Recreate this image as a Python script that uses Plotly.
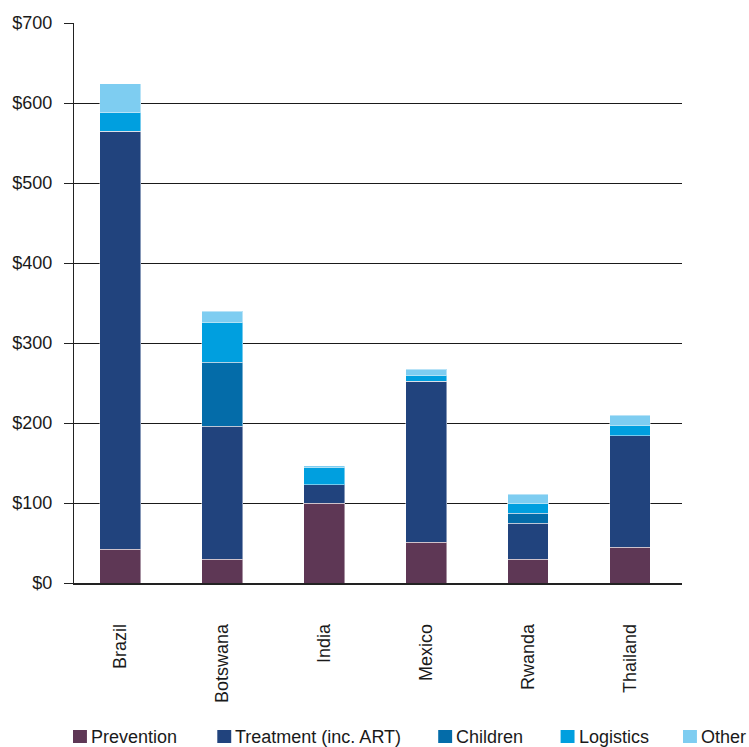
import plotly.graph_objects as go

# Spending per patient by country and programme area (US$)
countries = ["Brazil", "Botswana", "India", "Mexico", "Rwanda", "Thailand"]

prevention = [42, 30, 100, 51, 30, 45]
treatment = [523, 166, 23, 201, 45, 139]
children = [0, 80, 0, 0, 12, 0]
logistics = [23, 50, 22, 8, 13, 13]
other = [36, 14, 1.5, 7, 11, 13]

series_names = ["Prevention", "Treatment (inc. ART)", "Children", "Logistics", "Other"]
series_values = [prevention, treatment, children, logistics, other]
series_colors = ["#5E3755", "#21437D", "#046CA9", "#009FDF", "#7ECDF1"]

y_ticks = [0, 100, 200, 300, 400, 500, 600, 700]
y_tick_labels = ["$0", "$100", "$200", "$300", "$400", "$500", "$600", "$700"]

FONT = "Liberation Sans, Arial, Helvetica, sans-serif"
W, H = 749, 747
L, R, T, B = 71, 67, 23, 164
plot_w, plot_h = W - L - R, H - T - B

fig = go.Figure()
for name, vals, col in zip(series_names, series_values, series_colors):
    fig.add_trace(go.Bar(
        x=countries, y=vals, name=name, width=0.4,
        marker=dict(color=col, line=dict(color="rgba(255,255,255,0.45)", width=1)),
        showlegend=False,
    ))


def px_x(px):
    return (px - L) / plot_w


def px_y(py):
    return (H - B - py) / plot_h


# Legend row drawn as swatches with labels beneath the chart
swatch_left = [70, 215, 437, 560, 683]
shapes, annotations = [], []
for name, col, sx in zip(series_names, series_colors, swatch_left):
    shapes.append(dict(type="rect", xref="paper", yref="paper",
                       x0=px_x(sx), x1=px_x(sx + 14), y0=px_y(743), y1=px_y(730),
                       fillcolor=col, line=dict(width=0)))
    annotations.append(dict(xref="paper", yref="paper", x=px_x(sx + 16), y=px_y(737),
                            xanchor="left", yanchor="middle", showarrow=False,
                            text=name, font=dict(family=FONT, size=18, color="#1a1a1a")))

fig.update_layout(
    barmode="stack",
    width=W, height=H,
    margin=dict(l=L, r=R, t=T, b=B, pad=0),
    paper_bgcolor="white", plot_bgcolor="white",
    font=dict(family=FONT, size=18, color="#1a1a1a"),
    shapes=shapes, annotations=annotations,
    xaxis=dict(
        range=[-0.455, 5.51], tickangle=-90, ticks="", showgrid=False,
        showline=True, linecolor="#222", linewidth=1.5,
        ticklabelstandoff=32, tickfont=dict(size=18, color="#1a1a1a"),
    ),
    yaxis=dict(
        range=[0, 700], tickvals=y_ticks, ticktext=y_tick_labels,
        showgrid=True, gridcolor="#1a1a1a", gridwidth=1.2,
        showline=True, linecolor="#222", linewidth=1.2,
        ticks="outside", ticklen=9, tickcolor="#222", tickwidth=1.2,
        ticklabelstandoff=8, tickfont=dict(size=18, color="#1a1a1a"),
        zeroline=False,
    ),
)

fig.write_html("out.html")
